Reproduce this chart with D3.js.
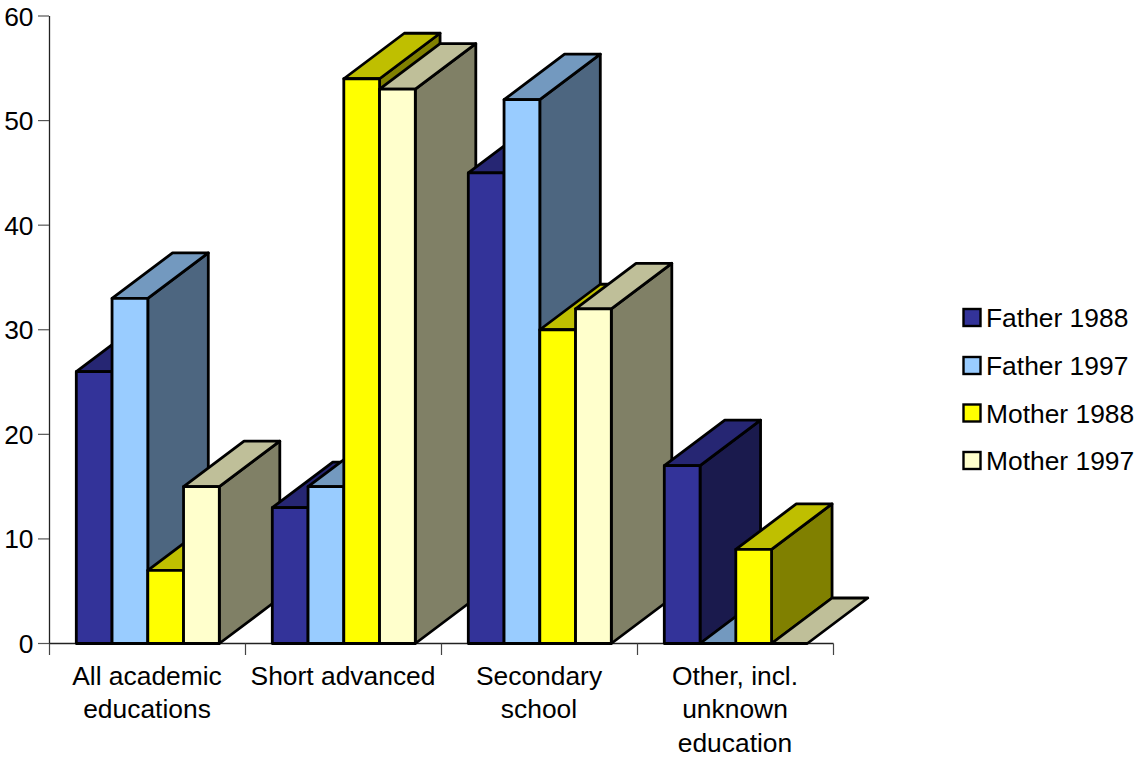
<!DOCTYPE html>
<html>
<head>
<meta charset="utf-8">
<title>Education of parents</title>
<script src="https://cdn.jsdelivr.net/npm/d3@7/dist/d3.min.js"></script>
<style>
  html, body { margin: 0; padding: 0; background: #fff; }
  svg { display: block; }
  text { font-family: "Liberation Sans", Arial, sans-serif; font-size: 26.4px; fill: #000; }
</style>
</head>
<body>
<svg id="chart" width="1136" height="764"></svg>
<script>
const categories = ["All academic educations", "Short advanced", "Secondary school", "Other, incl. unknown education"];
const categoryLines = [["All academic", "educations"], ["Short advanced"], ["Secondary", "school"], ["Other, incl.", "unknown", "education"]];
const seriesNames = ["Father 1988", "Father 1997", "Mother 1988", "Mother 1997"];
const father1988 = [26, 13, 45, 17];
const father1997 = [33, 15, 52, 0];
const mother1988 = [7, 54, 30, 9];
const mother1997 = [15, 53, 32, 0];
const seriesValues = [father1988, father1997, mother1988, mother1997];
const frontColors = ["#333399", "#99ccff", "#ffff00", "#ffffcc"];
const yTicks = [0, 10, 20, 30, 40, 50, 60];

const svg = d3.select("#chart");
const y = d3.scaleLinear().domain([0, 60]).range([643.5, 16]);
const x0 = d3.scaleBand().domain(categories).range([49, 833]);
const x1 = d3.scaleBand().domain(seriesNames).range([27.3, 170.3]);
const depthX = 60.5, depthY = 45.5;

const shade = (c, k) => { const r = d3.rgb(c); return d3.rgb(r.r * k, r.g * k, r.b * k).formatHex(); };
const poly = pts => "M" + pts.map(p => p.join(",")).join("L") + "Z";

// Value axis
const axisY = svg.append("g").attr("class", "axis-y");
axisY.append("line").attr("x1", 49.5).attr("x2", 49.5).attr("y1", y(60)).attr("y2", y(0))
  .attr("stroke", "#222").attr("stroke-width", 1.3);
axisY.selectAll("line.tick").data(yTicks).join("line").attr("class", "tick")
  .attr("x1", 38).attr("x2", 49).attr("y1", d => y(d)).attr("y2", d => y(d))
  .attr("stroke", "#555").attr("stroke-width", 1.2);
axisY.selectAll("text").data(yTicks).join("text")
  .attr("x", 33.5).attr("y", d => y(d) + 9.5).attr("text-anchor", "end").text(d => d);

// Category axis
const axisX = svg.append("g").attr("class", "axis-x");
const edges = categories.map(c => x0(c)).concat(x0.range()[1]);
axisX.append("line").attr("x1", 49).attr("x2", 833.5).attr("y1", y(0)).attr("y2", y(0))
  .attr("stroke", "#222").attr("stroke-width", 1.3);
axisX.selectAll("line.tick").data(edges).join("line").attr("class", "tick")
  .attr("x1", d => d + 0.5).attr("x2", d => d + 0.5).attr("y1", y(0)).attr("y2", 655)
  .attr("stroke", "#444").attr("stroke-width", 1.2);
axisX.selectAll("text").data(categories).join("text")
  .attr("text-anchor", "middle")
  .attr("transform", d => `translate(${x0(d) + x0.bandwidth() / 2},0)`)
  .each(function (d, i) {
    d3.select(this).selectAll("tspan").data(categoryLines[i]).join("tspan")
      .attr("x", 0).attr("y", (l, j) => 685 + j * 33.4).text(l => l);
  });

// 3D columns, back to front from left to right
const bars = svg.append("g").attr("class", "bars")
  .attr("stroke", "#000").attr("stroke-width", 2.8).attr("stroke-linejoin", "round");
categories.forEach((cat, ci) => {
  seriesNames.forEach((name, si) => {
    const v = seriesValues[si][ci];
    const col = frontColors[si];
    const l = x0(cat) + x1(name), r = l + x1.bandwidth();
    const t = y(v), b = y(0);
    const g = bars.append("g").attr("class", "bar");
    if (v > 0) {
      g.append("path").attr("fill", shade(col, 0.5))
        .attr("d", poly([[r, t], [r + depthX, t - depthY], [r + depthX, b - depthY], [r, b]]));
    }
    g.append("path").attr("fill", shade(col, 0.75))
      .attr("d", poly([[l, t], [l + depthX, t - depthY], [r + depthX, t - depthY], [r, t]]));
    if (v > 0) {
      g.append("rect").attr("x", l).attr("y", t).attr("width", r - l).attr("height", b - t).attr("fill", col);
    }
  });
});

// Legend
const legendRows = [317.5, 365.5, 413, 460.5];
const legend = svg.append("g").attr("class", "legend");
seriesNames.forEach((name, i) => {
  legend.append("rect").attr("x", 963.5).attr("y", legendRows[i] - 8.5).attr("width", 17).attr("height", 17)
    .attr("fill", frontColors[i]).attr("stroke", "#000").attr("stroke-width", 2.4);
  legend.append("text").attr("x", 986).attr("y", legendRows[i] + 9.5).text(name);
});
</script>
</body>
</html>
